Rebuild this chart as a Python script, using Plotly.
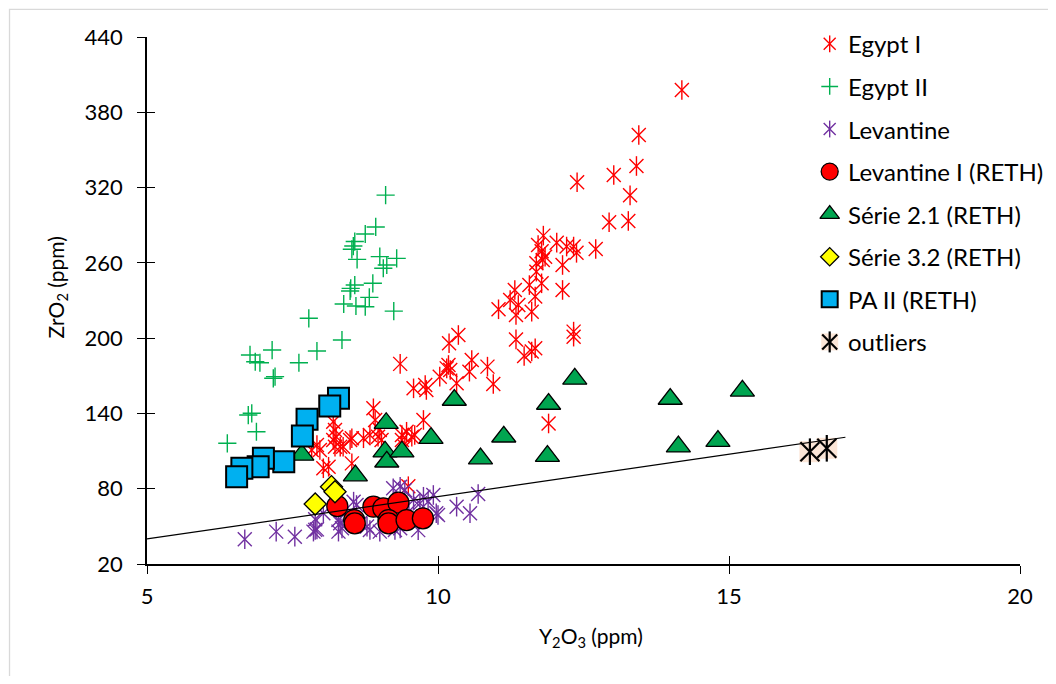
import plotly.graph_objects as go

# ---------------- data ----------------
egypt1_x = [14.19, 13.45, 13.41, 13.02, 12.39, 13.30, 12.94, 13.27, 12.71, 11.81,
            11.72, 12.04, 12.21, 12.33, 12.38, 11.78, 11.84, 11.80, 12.14, 11.69,
            11.69, 11.78, 11.57, 11.32, 11.67, 12.14, 11.24, 11.38, 11.04, 11.34,
            11.61, 12.33, 12.33, 10.35, 10.19, 11.34, 11.67, 11.61, 11.48, 9.35,
            10.18, 10.58, 10.85, 10.15, 10.21, 10.03, 10.54, 10.95, 10.32, 9.78,
            9.58, 9.80, 8.89, 8.92, 8.20, 8.23, 8.20, 8.23, 8.49, 8.52,
            8.37, 8.32, 8.72, 8.83, 8.97, 9.03, 9.38, 9.46, 9.55, 9.60,
            9.75, 9.38, 9.43, 7.92, 7.97, 7.83, 8.12, 8.03, 8.52, 11.90,
            9.49, 9.00, 8.25]
egypt1_y = [397.8, 361.9, 337.2, 330.0, 324.2, 313.8, 292.4, 293.4, 271.1, 281.7,
            274.2, 276.1, 273.0, 273.0, 268.0, 269.3, 264.9, 262.3, 258.3, 259.6,
            253.0, 243.7, 242.3, 238.4, 233.1, 238.4, 230.4, 226.4, 223.0, 218.4,
            221.1, 205.2, 201.2, 202.5, 195.9, 199.0, 191.9, 189.4, 185.8, 179.5,
            178.6, 182.6, 177.3, 175.9, 174.6, 169.3, 173.3, 163.4, 164.0, 162.7,
            160.0, 158.7, 144.1, 134.8, 133.4, 126.8, 118.8, 113.5, 118.8, 120.2,
            113.5, 113.5, 120.2, 122.8, 121.5, 118.8, 122.8, 125.4, 121.5, 122.8,
            134.8, 118.8, 113.5, 114.8, 110.9, 110.9, 97.5, 96.3, 100.2, 132.0,
            82.0, 126.8, 121.5]

egypt2_x = [9.10, 8.93, 8.75, 8.57, 8.545, 8.52, 8.61, 9.00, 9.29, 9.12,
            9.06, 8.57, 8.50, 8.49, 8.88, 8.82, 8.38, 8.59, 8.75, 9.24,
            7.78, 8.35, 7.92, 7.15, 6.77, 6.86, 6.94, 7.17, 7.20, 7.61,
            6.74, 6.80, 6.88, 6.38]
egypt2_y = [314.0, 288.6, 283.0, 277.0, 273.4, 270.8, 262.8, 265.0, 263.6, 258.3,
            255.7, 242.3, 239.7, 237.6, 243.7, 232.5, 227.2, 225.6, 225.0, 221.5,
            215.8, 198.5, 189.7, 190.5, 186.6, 181.2, 180.4, 168.0, 169.3, 180.4,
            138.7, 140.1, 125.4, 116.2]

levantine_x = [6.68, 7.22, 7.54, 7.86, 7.89, 7.92, 7.89, 8.03, 8.29, 8.32,
               8.35, 8.29, 8.55, 8.60, 8.78, 8.83, 8.66, 9.23, 9.35, 9.43,
               9.26, 9.35, 9.58, 9.69, 9.75, 9.83, 9.92, 9.97, 10.00, 10.32,
               10.55, 10.69, 9.66, 9.00, 9.12, 8.45, 9.50]
levantine_y = [39.7, 45.8, 41.8, 45.8, 47.2, 47.6, 55.6, 60.4, 55.0, 52.5,
               48.4, 45.8, 69.7, 67.0, 49.8, 47.1, 52.4, 80.3, 81.6, 79.0,
               47.1, 48.4, 71.0, 68.4, 73.6, 69.7, 75.0, 60.4, 59.0, 65.7,
               60.4, 75.8, 47.0, 45.8, 55.0, 58.0, 62.0]

lev1_x = [8.27, 8.56, 8.57, 8.89, 9.06, 9.32, 9.15, 9.15, 9.46, 9.74]
lev1_y = [66.2, 55.0, 52.4, 65.7, 64.4, 68.9, 55.0, 52.4, 55.0, 56.4]

serie21_x = [7.66, 8.58, 9.11, 9.09, 9.12, 9.38, 9.88, 10.28, 10.73, 11.13,
             11.90, 11.88, 12.35, 13.99, 14.13, 14.81, 15.23]
serie21_y = [106.9, 90.5, 132.2, 109.5, 101.5, 109.5, 120.3, 150.7, 104.0, 121.4,
             147.5, 106.0, 167.5, 151.5, 113.5, 118.0, 158.0]

serie32_x = [7.89, 8.17, 8.23]
serie32_y = [67.8, 81.6, 77.6]

pa2_x = [8.29, 8.14, 7.75, 7.67, 7.35, 7.00, 6.91, 6.63, 6.54]
pa2_y = [152.0, 145.9, 135.3, 122.0, 101.5, 104.2, 97.5, 96.3, 89.6]

outliers_x = [16.39, 16.68]
outliers_y = [109.5, 112.2]

trend_x = [5, 17]
trend_y = [40, 121]

x_ticks = [5, 10, 15, 20]
y_ticks = [20, 80, 140, 200, 260, 320, 380, 440]

series_names = ["Egypt I", "Egypt II", "Levantine", "Levantine I (RETH)",
                "Série 2.1 (RETH)", "Série 3.2 (RETH)", "PA II (RETH)", "outliers"]

# ---------------- style ----------------
FONT = "Lato"
FS_TICK = 22
FS_LEG = 24
FS_TITLE = 21
RED = "#FF0000"
GREEN_PLUS = "#00B050"
PURPLE = "#7030A0"
TRI = "#00A550"
BLUE = "#00B0F0"
YELLOW = "#FFFF00"
PEACH = "#FBE5D6"

fig = go.Figure()


def add(x, y, symbol, size, color, lcolor, lwidth, xa="x", ya="y", clip=True):
    fig.add_trace(go.Scatter(
        x=x, y=y, mode="markers", xaxis=xa, yaxis=ya, showlegend=False,
        hoverinfo="skip", cliponaxis=clip,
        marker=dict(symbol=symbol, size=size, color=color,
                    line=dict(color=lcolor, width=lwidth))))


def asterisk(x, y, color, size, width, xa="x", ya="y", clip=True):
    add(x, y, "x-thin-open", size, color, color, width, xa, ya, clip)
    add(x, y, "line-ns-open", size, color, color, width, xa, ya, clip)


def draw_series(i, x, y, xa="x", ya="y", legend=False):
    clip = not legend
    if i == 0:
        asterisk(x, y, RED, 12 if legend else 14, 1.4, xa, ya, clip)
    elif i == 1:
        add(x, y, "cross-thin-open", 12 if legend else 13, GREEN_PLUS, GREEN_PLUS, 1.4, xa, ya, clip)
    elif i == 2:
        asterisk(x, y, PURPLE, 12 if legend else 14, 1.4, xa, ya, clip)
    elif i == 3:
        add(x, y, "circle", 17 if legend else 21, RED, "black", 1.3, xa, ya, clip)
    elif i == 4:
        add(x, y, "triangle-up", 17 if legend else 21, TRI, "black", 1.3, xa, ya, clip)
    elif i == 5:
        add(x, y, "diamond", 14 if legend else 17, YELLOW, "black", 1.3, xa, ya, clip)
    elif i == 6:
        add(x, y, "square", 16 if legend else 21, BLUE, "black", 2, xa, ya, clip)
    elif i == 7:
        sq = 17 if legend else 21
        add(x, y, "square", sq, PEACH, PEACH, 0, xa, ya, clip)
        asterisk(x, y, "black", sq - 2, 2.2, xa, ya, clip)


all_series = [(egypt1_x, egypt1_y), (egypt2_x, egypt2_y), (levantine_x, levantine_y),
              (lev1_x, lev1_y), (serie21_x, serie21_y), (serie32_x, serie32_y),
              (pa2_x, pa2_y), (outliers_x, outliers_y)]

for i, (sx, sy) in enumerate(all_series):
    draw_series(i, sx, sy)

# trendline (drawn on top, as in the reference)
fig.add_trace(go.Scatter(x=trend_x, y=trend_y, mode="lines", showlegend=False,
                         hoverinfo="skip", line=dict(color="black", width=1.2)))

# ---------------- custom legend (overlay axes in plot-fraction units) ----------------
LEG_X = 0.782
LEG_TX = 0.801
LEG_Y0 = 0.987
LEG_DY = 0.0808
for i, name in enumerate(series_names):
    ly = LEG_Y0 - i * LEG_DY
    draw_series(i, [LEG_X], [ly], xa="x2", ya="y2", legend=True)

annotations = []
for i, name in enumerate(series_names):
    ly = LEG_Y0 - i * LEG_DY
    annotations.append(dict(text=name, x=LEG_TX, y=ly, xref="paper", yref="paper",
                            xanchor="left", yanchor="middle", showarrow=False,
                            font=dict(family=FONT, size=FS_LEG, color="black")))

# axis titles
annotations.append(dict(text="Y<sub>2</sub>O<sub>3</sub> (ppm)", x=0.509, y=-0.1385,
                        xref="paper", yref="paper", xanchor="center", yanchor="middle",
                        showarrow=False, font=dict(family=FONT, size=FS_TITLE, color="black")))
annotations.append(dict(text="ZrO<sub>2</sub> (ppm)", x=-0.103, y=0.525,
                        xref="paper", yref="paper", xanchor="center", yanchor="middle",
                        textangle=-90, showarrow=False,
                        font=dict(family=FONT, size=FS_TITLE, color="black")))

# dummy trace for cross-tick overlay axes
fig.add_trace(go.Scatter(x=[None], y=[None], xaxis="x3", yaxis="y3", showlegend=False,
                         hoverinfo="skip"))

axis_common = dict(showgrid=False, zeroline=False, showline=True, linecolor="black",
                   linewidth=1.5, ticks="outside", ticklen=8, tickwidth=1.3,
                   tickcolor="black", tickfont=dict(family=FONT, size=FS_TICK, color="black"))

# page body has an 8px margin: figure is 1040x668 so the plot lands where the reference has it
fig.update_layout(
    width=1040, height=668, autosize=False,
    margin=dict(l=139, r=28, t=29, b=112, pad=0),
    paper_bgcolor="white", plot_bgcolor="white",
    showlegend=False,
    font=dict(family=FONT, size=FS_TICK, color="black"),
    xaxis=dict(range=[5, 20], tickmode="array", tickvals=x_ticks, ticklabelstandoff=4,
               **axis_common),
    yaxis=dict(range=[20, 440], tickmode="array", tickvals=y_ticks, ticklabelstandoff=10,
               **axis_common),
    xaxis2=dict(range=[0, 1], overlaying="x", visible=False, fixedrange=True),
    yaxis2=dict(range=[0, 1], overlaying="y", visible=False, fixedrange=True),
    xaxis3=dict(range=[5, 20], overlaying="x", anchor="y", side="bottom", tickmode="array",
                tickvals=x_ticks, ticks="inside", ticklen=8, tickwidth=1.3, tickcolor="black",
                showticklabels=False, showline=False, showgrid=False, zeroline=False),
    yaxis3=dict(range=[20, 440], overlaying="y", anchor="x", side="left", tickmode="array",
                tickvals=y_ticks, ticks="inside", ticklen=8, tickwidth=1.3, tickcolor="black",
                showticklabels=False, showline=False, showgrid=False, zeroline=False),
    annotations=annotations,
    shapes=[dict(type="rect", xref="paper", yref="paper", x0=-0.1575, y0=-0.3,
                 x1=1.1, y1=1.0525, line=dict(color="#D9D9D9", width=1.3),
                 fillcolor="rgba(0,0,0,0)", layer="below")],
)

fig.write_html("out.html")
